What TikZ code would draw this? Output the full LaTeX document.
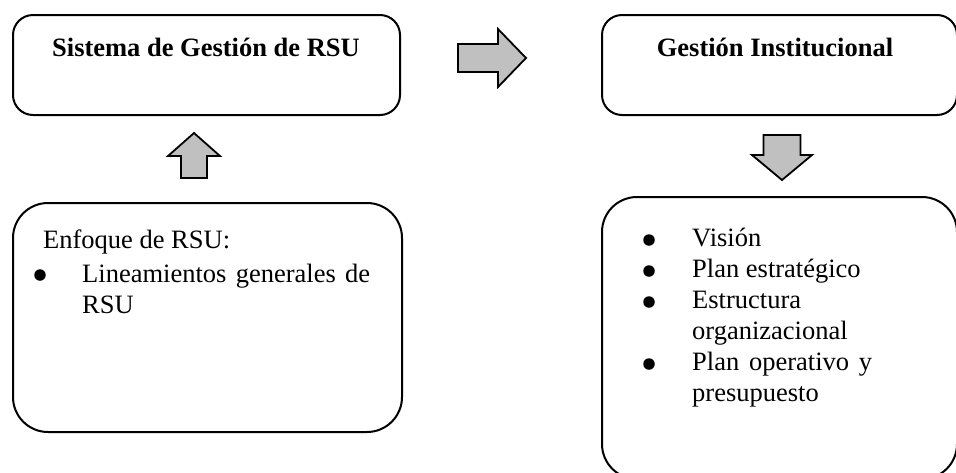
\documentclass[tikz,border=0pt]{standalone}
\usepackage{fontspec}
\setmainfont{Liberation Serif}
\definecolor{arrowgray}{RGB}{192,192,192}
\begin{document}
\begin{tikzpicture}[x=1pt,y=-1pt,
  box/.style={draw, line width=2pt, rounded corners=#1, inner sep=0pt},
  txt/.style={inner sep=0pt, anchor=base west, font=\fontsize{26.5}{31}\selectfont},
  bul/.style={circle, fill=black, inner sep=0pt, minimum size=11.5pt},
  blockarrow/.style={draw, line width=1.8pt, fill=arrowgray, line join=miter}]
\useasboundingbox (0,0) rectangle (956,472);
\clip (0,0) rectangle (956,472);
% boxes
\node[box=20pt, minimum width=387pt, minimum height=100pt] (sis) at (206.5,65) {};
\node[box=20pt, minimum width=355pt, minimum height=100pt] (ges) at (779.5,65) {};
\node[box=35pt, minimum width=389pt, minimum height=229pt] (enf) at (207.5,317.5) {};
\node[box=35pt, minimum width=355pt, minimum height=282pt] (lis) at (779.5,338) {};
% titles
\node[txt, anchor=base] (tsis) at (206,56) {\bfseries Sistema de Gestión de RSU};
\node[txt, anchor=base] (tges) at (775,56) {\bfseries Gestión Institucional};
% left box text
\node[txt] (e1) at (43,248) {Enfoque de RSU:};
\node[bul] (eb1) at (40,275) {};
\node[txt] (e2) at (82,282) {\makebox[288pt][s]{Lineamientos generales de}};
\node[txt] (e3) at (82,313) {RSU};
% right box text
\node[bul] (rb1) at (649,240) {};
\node[txt] (r1) at (692,246) {Visión};
\node[bul] (rb2) at (649,271) {};
\node[txt] (r2) at (692,277) {Plan estratégico};
\node[bul] (rb3) at (649,302) {};
\node[txt] (r3) at (692,308) {Estructura};
\node[txt] (r4) at (692,339.5) {organizacional};
\node[bul] (rb4) at (649,364) {};
\node[txt] (r5) at (692,370.5) {\makebox[180pt][s]{Plan operativo y}};
\node[txt] (r6) at (692,401.5) {presupuesto};
% block arrows
\draw[blockarrow] (458,44) -- (498,44) -- (498,29) -- (526,58) -- (498,87) -- (498,72) -- (458,72) -- cycle;
\draw[blockarrow] (181,178) -- (181,156) -- (168,156) -- (194,133) -- (220,156) -- (207,156) -- (207,178) -- cycle;
\draw[blockarrow] (763.5,135) -- (800.5,135) -- (800.5,155) -- (812,155) -- (782,180) -- (752,155) -- (763.5,155) -- cycle;
\end{tikzpicture}
\end{document}
